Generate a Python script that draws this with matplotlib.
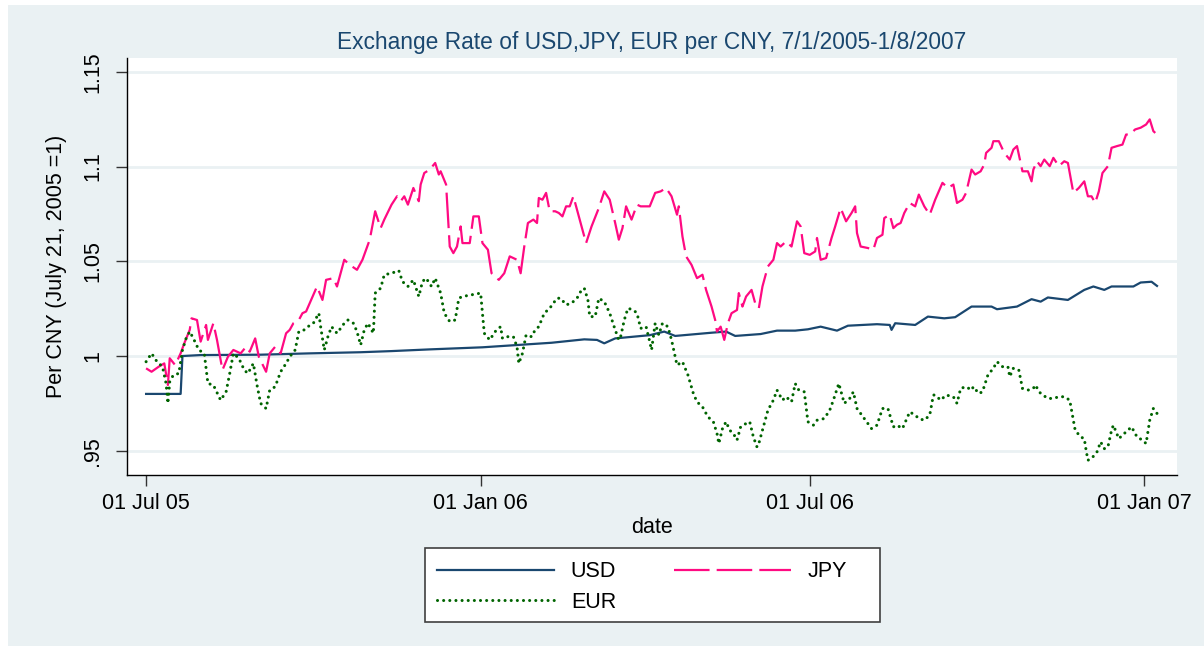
import numpy as np
import pandas as pd
import matplotlib
matplotlib.use("Agg")
import matplotlib.pyplot as plt
import matplotlib.dates as mdates
from matplotlib.patches import Rectangle
from matplotlib.lines import Line2D

plt.rcParams['font.family'] = ['Liberation Sans', 'DejaVu Sans']

start = pd.Timestamp("2005-07-01")

# days after 1 Jul 2005 and index values (July 21, 2005 = 1)
usd_days = [0, 19, 20, 30, 63, 90, 118, 135, 156, 185, 223, 241, 248, 252, 258, 277,
            285, 291, 311, 319, 324, 338, 347, 357, 364, 371, 380, 386, 402, 409, 410,
            412, 423, 430, 439, 445, 454, 465, 468, 479, 487, 492, 496, 507, 516, 521,
            527, 531, 543, 547, 553, 556]
usd = [0.980, 0.980, 1.000, 1.0005, 1.0007, 1.0014, 1.002, 1.0026, 1.0035, 1.0046,
       1.007, 1.0088, 1.0085, 1.0067, 1.0093, 1.011, 1.0129, 1.0106, 1.0123, 1.0129,
       1.0106, 1.0116, 1.0134, 1.0134, 1.0141, 1.0155, 1.0134, 1.016, 1.0168, 1.0164,
       1.0138, 1.0173, 1.0164, 1.0208, 1.0199, 1.0205, 1.0261, 1.0261, 1.0247, 1.0261,
       1.030, 1.0287, 1.0309, 1.0296, 1.0349, 1.0367, 1.0349, 1.0367, 1.0367, 1.0388,
       1.0392, 1.037]

jpy_days = [0, 3, 7, 10, 12, 13, 16, 19, 21, 24, 25, 28, 30, 33, 34, 37, 39, 42, 45, 48,
            52, 55, 57, 60, 62, 66, 68, 71, 74, 77, 79, 81, 84, 86, 88, 92, 94, 97, 99,
            103, 105, 109, 112, 116, 119, 123, 126, 129, 131, 135,
            138, 140, 142, 144, 147, 150, 151, 153, 156, 159, 161, 162, 165, 167, 169,
            171, 173, 174, 178, 180, 183, 185, 188, 190, 194, 197, 200, 204, 206, 208,
            210, 213, 215, 216, 218, 220, 222, 225, 227, 229, 231, 233, 235, 238, 239,
            242, 245, 249, 252, 255, 258, 260, 262, 264, 267, 270, 272, 277,
            280, 283, 286, 289, 292, 293, 295, 297, 300, 303, 306, 308, 311, 313, 314,
            316, 318, 320, 322, 325, 326, 328, 330, 333, 335, 337, 339, 342, 345, 347,
            349, 352, 355, 358, 360, 362, 365, 368, 369, 371, 374, 377, 379, 382, 385,
            388, 390, 391, 393, 397, 400, 402, 405, 406, 409, 411, 413, 415, 417, 420,
            423, 425, 428, 431, 434, 436, 438, 441, 444, 446, 449, 451, 454, 456, 459,
            461, 462, 465, 466, 469, 472, 475, 477, 479, 482, 485, 487, 488, 490, 492,
            494, 497, 499, 502, 505, 507, 509, 510, 513, 516, 518, 520, 522, 524, 526,
            529, 531, 534, 537, 539, 541, 544, 547, 550, 552, 554, 556]
jpy = [0.9935, 0.9917, 0.9944, 0.9961, 0.9847, 0.9988, 0.9952, 1.0014, 1.0067, 1.0138,
       1.0199, 1.019, 1.0076, 1.0164, 1.0085, 1.0173, 1.0085, 0.9926, 0.9996, 1.0032,
       1.0014, 1.0049, 1.0023, 1.0093, 0.9996, 0.9917, 1.0014, 1.0049, 1.0014, 1.012,
       1.0138, 1.0173, 1.019, 1.0226, 1.0235, 1.0323, 1.0367, 1.0296, 1.0402, 1.0411,
       1.0367, 1.0508, 1.0481, 1.0455, 1.0508, 1.0614, 1.0764, 1.0675, 1.072, 1.0799,
       1.0843, 1.0817, 1.0843, 1.0799, 1.0887, 1.0817, 1.0905, 1.0966, 1.0984, 1.1019,
       1.0958, 1.0975, 1.0905, 1.0578, 1.0543, 1.0578, 1.0684, 1.0596, 1.0596, 1.0737,
       1.0737, 1.0596, 1.0561, 1.0437, 1.0402, 1.0437, 1.0526, 1.0508, 1.0437, 1.0578,
       1.0702, 1.072, 1.0702, 1.0834, 1.0825, 1.0861, 1.0764, 1.0764, 1.0755, 1.0737,
       1.079, 1.079, 1.0843, 1.0737, 1.0702, 1.0596, 1.0684, 1.0781, 1.0869, 1.0825,
       1.0702, 1.0614, 1.0675, 1.079, 1.072, 1.0799, 1.079, 1.079,
       1.0861, 1.0869, 1.0887, 1.0843, 1.0746, 1.079, 1.0631, 1.0526, 1.0481, 1.0411,
       1.0429, 1.0349, 1.0261, 1.019, 1.0129, 1.0155, 1.0085, 1.0173, 1.0226, 1.0243,
       1.0332, 1.0261, 1.0314, 1.0349, 1.0279, 1.0252, 1.0367, 1.0473, 1.0508, 1.0596,
       1.0578, 1.0605, 1.0578, 1.0711, 1.0684, 1.0543, 1.0534, 1.0552, 1.0623, 1.0508,
       1.0517, 1.0623, 1.0684, 1.0781, 1.0711, 1.0755, 1.079, 1.0649, 1.0578, 1.057,
       1.0561, 1.0623, 1.064, 1.0728, 1.0746, 1.0675, 1.0693, 1.0702, 1.0755, 1.0808,
       1.079, 1.0852, 1.079, 1.0746, 1.0825, 1.0869, 1.0914, 1.0887, 1.0905, 1.0808,
       1.0825, 1.0861, 1.0984, 1.0958, 1.0975, 1.1011, 1.1072, 1.1099, 1.1134, 1.1134,
       1.1072, 1.1037, 1.109, 1.1108, 1.0975, 1.0975, 1.0922, 1.0984, 1.1028, 1.1002,
       1.1037, 1.1002, 1.1046, 1.1002, 1.1028, 1.1019, 1.0914, 1.0861, 1.0887, 1.0922,
       1.0843, 1.0843, 1.0808, 1.0869, 1.0966, 1.1002, 1.1099, 1.1108, 1.1116, 1.1169,
       1.1169, 1.1196, 1.1205, 1.1222, 1.1249, 1.1187, 1.1169]

eur_days = [0, 3, 6, 9, 11, 12, 13, 15, 18, 20, 22, 24, 26, 29, 32, 34, 37, 41, 44, 46,
            48, 51, 54, 56, 59, 61, 63, 66, 68, 71, 74, 77, 79, 82, 84, 87, 89, 92, 95,
            96, 98, 100, 102, 105, 109, 111, 114, 116, 118, 120, 122, 125, 126, 129, 131,
            135,
            139, 141, 144, 147, 150, 152, 154, 157, 159, 162, 164, 167, 170, 172, 174,
            179, 184, 186, 189, 192, 195, 196, 199, 202, 204, 205, 207, 209, 212, 214,
            216, 219, 222, 226, 228, 231, 234, 237, 239, 241, 243, 244, 247, 249, 252,
            255, 258, 260, 261, 263, 265, 268, 270, 272, 275, 277,
            278, 280, 282, 284, 287, 289, 291, 292, 295, 298, 301, 303, 306, 309, 312,
            314, 315, 317, 319, 321, 323, 325, 327, 330, 332, 334, 336, 337, 339, 342,
            345, 347, 350, 352, 355, 357, 359, 362, 364, 367, 369, 373, 376, 378, 381,
            384, 387, 389, 391, 395, 399, 402, 405, 408, 411, 413, 416, 420,
            423, 425, 428, 431, 433, 434, 437, 440, 444, 446, 448, 451, 454, 455, 458,
            460, 463, 466, 468, 471, 474, 475, 477, 480, 482, 485, 488, 489, 492, 496,
            499, 502, 505, 508, 510, 511, 514, 516, 517, 518, 520, 523, 525, 527, 529,
            531, 532, 535, 538, 542, 545, 548, 550, 552, 554, 556]
eur = [0.997, 1.0014, 0.997, 0.9944, 0.9855, 0.975, 0.9864, 0.99, 0.9908, 1.0032,
       1.0093, 1.0129, 1.0093, 1.0032, 1.0014, 0.9855, 0.9847, 0.9767, 0.9811, 0.9908,
       1.0014, 0.9988, 0.9926, 0.9908, 0.9961, 0.9847, 0.975, 0.9723, 0.982, 0.9838,
       0.9917, 0.9961, 0.9996, 1.0032, 1.0129, 1.0138, 1.0155, 1.0173, 1.0226, 1.0155,
       1.0032, 1.0102, 1.0155, 1.012, 1.0173, 1.019, 1.0173, 1.0129, 1.0058, 1.0138,
       1.0173, 1.012, 1.0332, 1.0358, 1.0429, 1.0437,
       1.0451, 1.0393, 1.0367, 1.0402, 1.0314, 1.0393, 1.0411, 1.0367, 1.0411, 1.0332,
       1.0226, 1.0182, 1.019, 1.0305, 1.0314, 1.0323, 1.0332, 1.012, 1.0085, 1.0129,
       1.0155, 1.0093, 1.0102, 1.0102, 1.0049, 0.9961, 1.0014, 1.0111, 1.0102, 1.0138,
       1.0155, 1.0226, 1.0252, 1.0305, 1.0305, 1.027, 1.0279, 1.0305, 1.034, 1.0358,
       1.0296, 1.0208, 1.0208, 1.0305, 1.0287, 1.0226, 1.0138, 1.0085, 1.0102, 1.019,
       1.0252, 1.0243, 1.0226, 1.0146, 1.0155, 1.0076,
       1.0032, 1.0173, 1.0111, 1.0173, 1.0155, 1.0085, 0.9996, 0.9952, 0.997, 0.99,
       0.9802, 0.9758, 0.9732, 0.9679, 0.9653, 0.9591, 0.9538, 0.9617, 0.9653, 0.9608,
       0.9591, 0.9556, 0.9626, 0.9644, 0.9653, 0.9573, 0.952, 0.9538, 0.9608, 0.9714,
       0.9767, 0.982, 0.9767, 0.9785, 0.9758, 0.9855, 0.982, 0.9811, 0.9653, 0.9635,
       0.9661, 0.967, 0.9714, 0.9767, 0.9855, 0.975, 0.9776, 0.9811, 0.9723, 0.967,
       0.9617, 0.9635, 0.9723, 0.9723, 0.9626, 0.9635, 0.9617, 0.9705,
       0.9688, 0.967, 0.9661, 0.9688, 0.9794, 0.9794, 0.9767, 0.9794, 0.9785, 0.975,
       0.9829, 0.9838, 0.982, 0.9838, 0.9802, 0.9811, 0.99, 0.9935, 0.997, 0.9944,
       0.9944, 0.9891, 0.9935, 0.9926, 0.9829, 0.982, 0.9829, 0.9847, 0.9802, 0.9776,
       0.9776, 0.9785, 0.9785, 0.9767, 0.9661, 0.9608, 0.9573, 0.9564, 0.9503, 0.945,
       0.9459, 0.9494, 0.9547, 0.9511, 0.952, 0.9608, 0.9635, 0.9564, 0.9591, 0.9626,
       0.9573, 0.9556, 0.9538, 0.9661, 0.9723, 0.9697]

yticks = [0.95, 1.0, 1.05, 1.1, 1.15]
ytick_labels = [".95", "1", "1.05", "1.1", "1.15"]
xticks = ["2005-07-01", "2006-01-01", "2006-07-01", "2007-01-01"]

def to_dates(days):
    return start + pd.to_timedelta(days, unit="D")

navy = "#1A476F"
pink = "#FF0A82"
green = "#006400"
bg = "#EAF1F3"
jpy_dash = (16, 3.2)
eur_dot = (0.01, 2.0)
fs = 15.5

W, H = 1204, 646
fig = plt.figure(figsize=(W / 100, H / 100), dpi=100, facecolor="white")
fig.patches.append(Rectangle((8 / W, 0), 1 - 8 / W, 1 - 5 / H, transform=fig.transFigure,
                             facecolor=bg, edgecolor="none", zorder=-5))

ax = fig.add_axes([127 / W, (H - 475) / H, 1050 / W, 417 / H])
ax.set_zorder(1)
ax.set_facecolor("white")

ax.plot(to_dates(usd_days), usd, color=navy, lw=1.6, label="USD", zorder=3)
ax.plot(to_dates(jpy_days), jpy, color=pink, lw=1.6, dashes=jpy_dash, label="JPY", zorder=3)
ax.plot(to_dates(eur_days), eur, color=green, lw=2.2, dashes=eur_dot,
        dash_capstyle="round", label="EUR", zorder=3)

ax.set_xlim(start - pd.Timedelta(days=10.5), start + pd.Timedelta(days=567))
ax.set_ylim(0.9372, 1.1573)

ax.set_yticks(yticks)
ax.set_yticklabels(ytick_labels, rotation=90, va="center")
ax.set_xticks(pd.to_datetime(xticks))
ax.xaxis.set_major_formatter(mdates.DateFormatter("%d %b %y"))

ax.grid(axis="y", color=bg, lw=2.0)
ax.set_axisbelow(True)
for s in ["top", "right"]:
    ax.spines[s].set_visible(False)
for s in ["left", "bottom"]:
    ax.spines[s].set_color("black")
    ax.spines[s].set_linewidth(1.0)
ax.tick_params(axis="both", labelsize=fs, length=8, width=1, color="#333333")
ax.tick_params(axis="y", pad=9)
ax.tick_params(axis="x", pad=5)

ax.set_ylabel("Per CNY (July 21, 2005 =1)", fontsize=fs, labelpad=11)
ax.set_xlabel("date", fontsize=fs, labelpad=2)
fig.text(652 / W, (H - 42) / H, "Exchange Rate of USD,JPY, EUR per CNY, 7/1/2005-1/8/2007",
         ha="center", va="center", fontsize=16.4, color=navy)

# legend box
fig.patches.append(Rectangle((425 / W, (H - 622) / H), 455 / W, 74 / H, transform=fig.transFigure,
                             facecolor="white", edgecolor="#404040", lw=1.2, zorder=1))
handles = [Line2D([], [], color=navy, lw=1.6),
           Line2D([], [], color=green, lw=2.2, dashes=eur_dot, dash_capstyle="round"),
           Line2D([], [], color=pink, lw=1.6, dashes=jpy_dash)]
leg = fig.legend(handles, ["USD", "EUR", "JPY"], ncol=2, loc="upper left",
                 bbox_to_anchor=(433 / W, (H - 557) / H), frameon=False, fontsize=fs,
                 handlelength=5.4, handletextpad=0.8, columnspacing=2.7, labelspacing=0.45,
                 borderpad=0.2, borderaxespad=0)
leg.set_zorder(2)

fig.savefig("out.png", dpi=100, facecolor=fig.get_facecolor())
